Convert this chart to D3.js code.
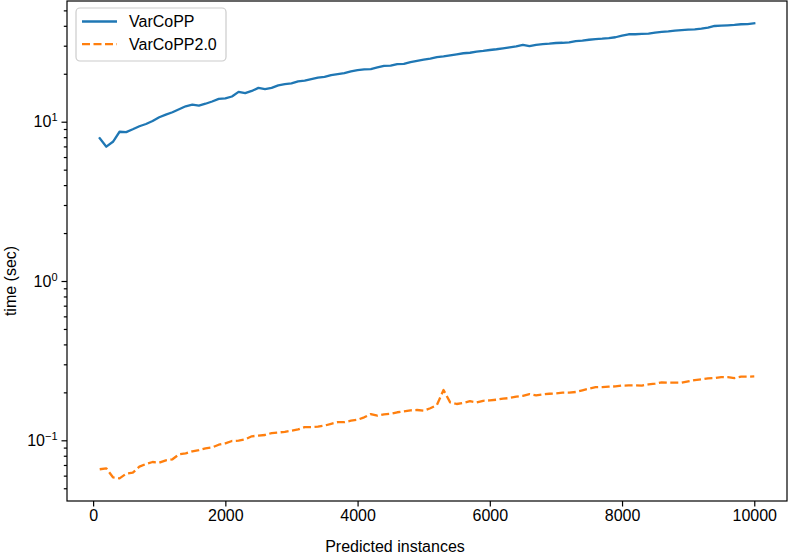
<!DOCTYPE html>
<html>
<head>
<meta charset="utf-8">
<script src="https://cdn.jsdelivr.net/npm/d3@7"></script>
<style>
  html, body { margin: 0; padding: 0; background: #fff; }
  svg { display: block; font-family: "Liberation Sans", Arial, sans-serif; }
</style>
</head>
<body>
<svg id="chart" width="788" height="555"></svg>
<script>
// ---- data ----
const instances = d3.range(100, 10001, 100);
const varcopp = [
  7.87, 6.97, 7.48, 8.65, 8.6, 8.96, 9.36, 9.68, 10.1, 10.66,
  11.07, 11.46, 11.97, 12.5, 12.8, 12.6, 12.97, 13.4, 13.9, 14.0,
  14.4, 15.4, 15.1, 15.6, 16.3, 16.0, 16.3, 16.9, 17.2, 17.4,
  17.9, 18.1, 18.5, 18.9, 19.1, 19.6, 19.9, 20.2, 20.7, 21.1,
  21.3, 21.4, 21.9, 22.4, 22.5, 23.0, 23.1, 23.7, 24.1, 24.5,
  24.9, 25.4, 25.7, 26.1, 26.5, 26.9, 27.1, 27.5, 27.8, 28.2,
  28.5, 28.9, 29.3, 29.7, 30.4, 29.8, 30.4, 30.7, 30.9, 31.2,
  31.3, 31.5, 32.1, 32.3, 32.7, 33.0, 33.2, 33.5, 33.9, 34.7,
  35.4, 35.4, 35.6, 35.7, 36.2, 36.6, 36.9, 37.3, 37.6, 37.8,
  38.0, 38.4, 38.9, 39.9, 40.1, 40.3, 40.5, 40.9, 41.0, 41.5
];
const varcopp2 = [
  0.0658, 0.0667, 0.0586, 0.0577, 0.0617, 0.0626, 0.0683, 0.0710, 0.0731, 0.0724,
  0.0749, 0.0760, 0.0817, 0.0828, 0.0853, 0.0869, 0.0891, 0.0903, 0.0938, 0.0957,
  0.0990, 0.0995, 0.1015, 0.106, 0.107, 0.108, 0.111, 0.112, 0.113, 0.115,
  0.117, 0.121, 0.121, 0.1217, 0.1236, 0.127, 0.130, 0.130, 0.1328, 0.1346,
  0.1394, 0.1462, 0.1427, 0.1456, 0.1469, 0.150, 0.152, 0.1543, 0.155, 0.1535,
  0.159, 0.1667, 0.207, 0.173, 0.169, 0.172, 0.176, 0.173, 0.177, 0.178,
  0.1798, 0.1825, 0.1843, 0.188, 0.190, 0.195, 0.1916, 0.194, 0.196, 0.197,
  0.199, 0.199, 0.201, 0.206, 0.211, 0.2155, 0.216, 0.217, 0.218, 0.2205,
  0.221, 0.221, 0.2205, 0.2246, 0.2266, 0.231, 0.230, 0.230, 0.230, 0.2347,
  0.239, 0.2415, 0.245, 0.246, 0.2496, 0.249, 0.246, 0.251, 0.251, 0.252
];
const seriesNames = ["VarCoPP", "VarCoPP2.0"];
const seriesColors = ["#1f77b4", "#ff7f0e"];
const xTicks = [0, 2000, 4000, 6000, 8000, 10000];
const yMajorTicks = [0.1, 1, 10];
const yTickExponents = ["−1", "0", "1"];
const xLabel = "Predicted instances";
const yLabel = "time (sec)";

// ---- layout ----
const svg = d3.select("#chart");
const L = 67, R = 787, T = 1, B = 501;
const fs = 16;

const x = d3.scaleLinear().domain([-395, 10495]).range([L, R]);
const y = d3.scaleLog().domain([0.04159, 57.25]).range([B, T]);

// minor ticks
const yMinor = [];
[0.01, 0.1, 1, 10].forEach(d => { for (let k = 2; k <= 9; k++) { const v = d * k; if (v > y.domain()[0] && v < y.domain()[1]) yMinor.push(v); } });

// lines
const line = d3.line().x((d, i) => x(instances[i])).y(d => y(d));
const g = svg.append("g");
g.append("path").datum(varcopp).attr("d", line)
  .attr("fill", "none").attr("stroke", seriesColors[0]).attr("stroke-width", 2.3)
  .attr("stroke-linejoin", "round").attr("stroke-linecap", "square");
g.append("path").datum(varcopp2).attr("d", line)
  .attr("fill", "none").attr("stroke", seriesColors[1]).attr("stroke-width", 2.3)
  .attr("stroke-dasharray", "8,3.5").attr("stroke-linejoin", "round");

// axes
const xAxis = svg.append("g").attr("transform", `translate(0,${B})`)
  .call(d3.axisBottom(x).tickValues(xTicks).tickFormat(d3.format("d")).tickSize(5.5).tickPadding(3));
const yAxisMinor = svg.append("g").attr("transform", `translate(${L},0)`)
  .call(d3.axisLeft(y).tickValues(yMinor).tickFormat("").tickSize(3.2));
const yAxis = svg.append("g").attr("transform", `translate(${L},0)`)
  .call(d3.axisLeft(y).tickValues(yMajorTicks).tickSize(5.5).tickPadding(4));

[xAxis, yAxis, yAxisMinor].forEach(a => {
  a.select(".domain").remove();
  a.selectAll(".tick line").attr("stroke", "#000").attr("stroke-width", 1.2);
  a.selectAll("text").attr("font-size", fs).attr("fill", "#000").attr("font-family", "\"Liberation Sans\", Arial, sans-serif");
});

// superscript labels
yAxis.selectAll(".tick text").each(function(d, i) {
  const t = d3.select(this);
  t.text(null);
  t.append("tspan").text("10");
  t.append("tspan").attr("font-size", 11).attr("dy", "-0.55em").text(yTickExponents[i]);
});

// spines
svg.append("rect").attr("x", L).attr("y", T).attr("width", R - L).attr("height", B - T)
  .attr("fill", "none").attr("stroke", "#000").attr("stroke-width", 1.2);

// axis labels
svg.append("text").attr("x", (L + R) / 2 - 32).attr("y", 552)
  .attr("text-anchor", "middle").attr("font-size", fs).attr("fill", "#000").text(xLabel);
svg.append("text").attr("transform", `translate(16,${(T + B) / 2 + 30}) rotate(-90)`)
  .attr("text-anchor", "middle").attr("font-size", fs).attr("fill", "#000").text(yLabel);

// legend
const lg = svg.append("g");
lg.append("rect").attr("x", 76).attr("y", 8).attr("width", 150).attr("height", 53)
  .attr("rx", 4).attr("fill", "#fff").attr("fill-opacity", 0.8)
  .attr("stroke", "#cccccc").attr("stroke-width", 1.2);
seriesNames.forEach((n, i) => {
  const yy = 21.5 + i * 22.7;
  lg.append("line").attr("x1", 82).attr("x2", 117).attr("y1", yy).attr("y2", yy)
    .attr("stroke", seriesColors[i]).attr("stroke-width", 2.3)
    .attr("stroke-dasharray", i === 1 ? "8,3.5" : null);
  lg.append("text").attr("x", 129).attr("y", yy + 5.7).attr("font-size", fs).attr("fill", "#000").text(n);
});
</script>
</body>
</html>
